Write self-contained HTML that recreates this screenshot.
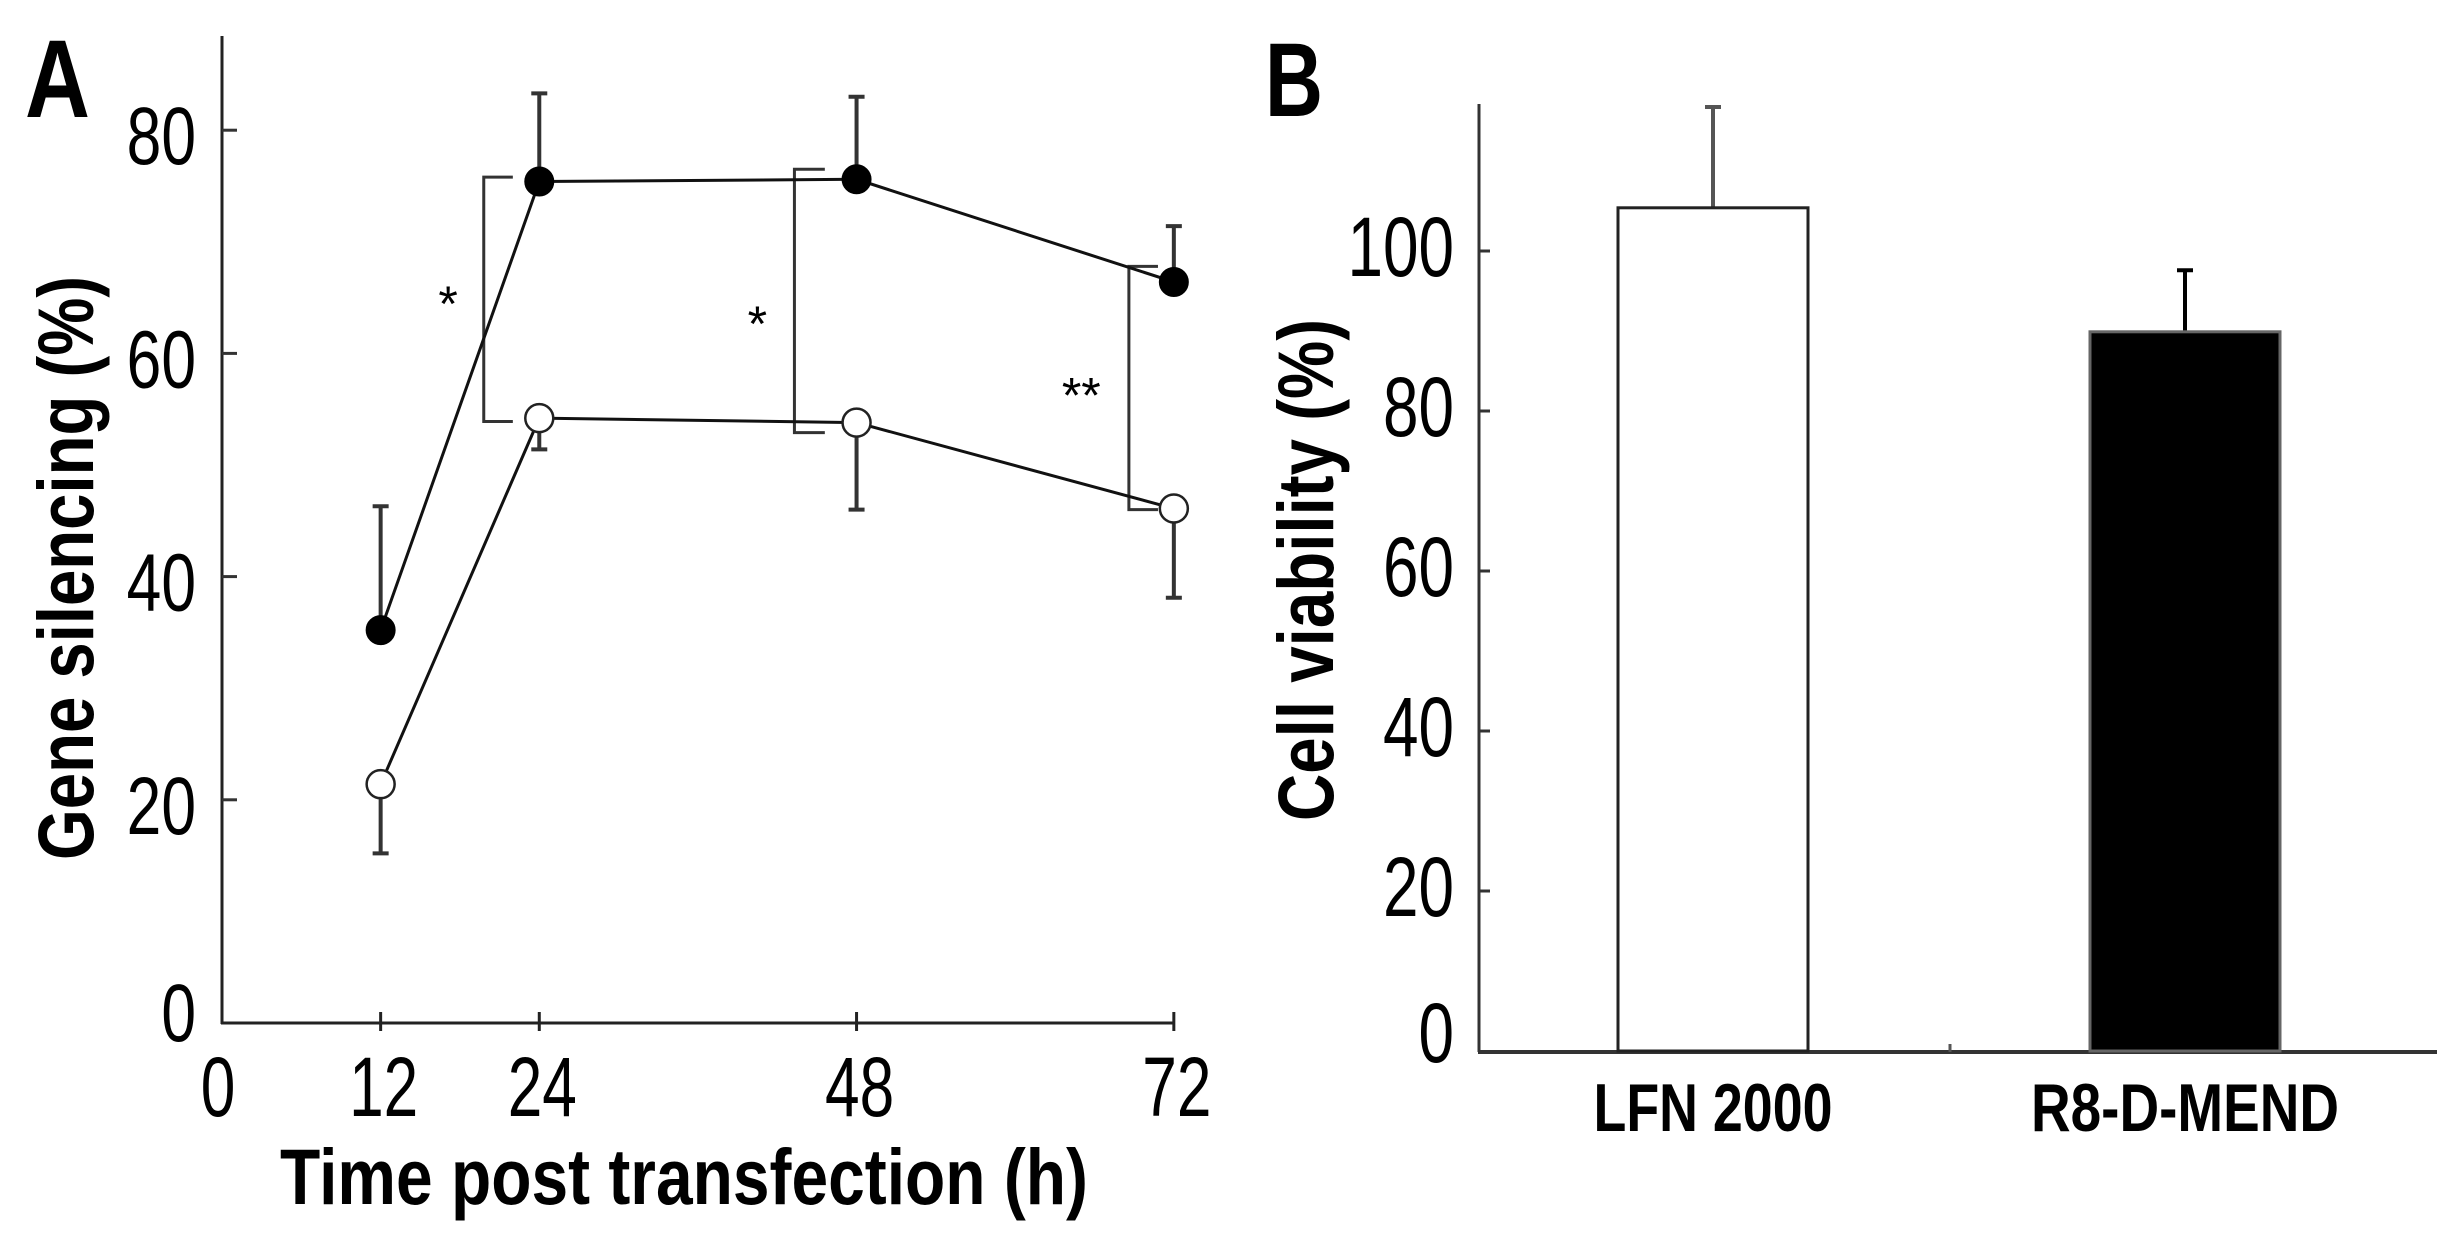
<!DOCTYPE html>
<html><head><meta charset="utf-8"><style>
html,body{margin:0;padding:0;background:#fff;}
svg{display:block;font-family:"Liberation Sans",Arial,sans-serif;}
</style></head><body>
<svg id="fig" width="2450" height="1255" viewBox="0 0 2450 1255" xmlns="http://www.w3.org/2000/svg"></svg>
<script>
// ---- Panel A data ----
const hours = [12, 24, 48, 72];
const treatedMean = [35.2, 75.4, 75.6, 66.4];
const treatedUpper = [46.3, 83.3, 83.0, 71.4];
const controlMean = [21.4, 54.2, 53.8, 46.1];
const controlLower = [15.2, 51.4, 46.0, 38.1];
const aYTicks = [0, 20, 40, 60, 80];
const aXTicks = [0, 12, 24, 48, 72];
const bracketX = [19.8, 43.3, 68.6];
const bracketTop = [75.8, 76.5, 67.8];
const bracketBottom = [53.9, 52.9, 46.0];
const bracketEnd = [22, 45.6, 70.8];
const starLabels = ["*", "*", "**"];
const starX = [17.1, 40.5, 65.0];
const starY = [65.5, 63.7, 57.3];
// ---- Panel B data ----
const groups = ["LFN 2000", "R8-D-MEND"];
const viability = [105.4, 89.9];
const viabilityErr = [118.0, 97.6];
const bYTicks = [0, 20, 40, 60, 80, 100];

const NS = "http://www.w3.org/2000/svg";
const svg = document.getElementById("fig");
function mk(tag, attrs, parent) {
  const e = document.createElementNS(NS, tag);
  for (const k in attrs) e.setAttribute(k, attrs[k]);
  (parent || svg).appendChild(e);
  return e;
}
// axis functions
const ax = h => 222 + h * 13.22;
const ay = v => 1023 - v * 11.16;
const bx = i => [1713, 2185][i];
const by = v => 1051 - v * 8.0;

// ---------------- Panel A ----------------
const gA = mk("g", {});


let t = mk("text", {x: 25, y: 117, "font-size": 110, "font-weight": "bold", textLength: 65, lengthAdjust: "spacingAndGlyphs"}, gA);
t.textContent = "A";



let ln = mk("line", {x1: 222, y1: 36, x2: 222, y2: 1024, stroke: "#222", "stroke-width": 3}, gA);


ln = mk("line", {x1: 221, y1: 1023, x2: ax(72) + 1, y2: 1023, stroke: "#222", "stroke-width": 3}, gA);



aYTicks.forEach(v => {
  if (v > 0) {
    const tk = mk("line", {x1: 222, y1: ay(v), x2: 237, y2: ay(v), stroke: "#333", "stroke-width": 3}, gA);
    
    
  }
  const g = mk("g", {transform: `translate(196,${ay(v) + (v === 0 ? -11 : 5) + 29}) scale(0.76,1)`}, gA);
  const tx = mk("text", {x: 0, y: 0, "font-size": 82, "text-anchor": "end"}, g);
  tx.textContent = String(v);
  
  
});
aXTicks.forEach(h => {
  if (h > 0) {
    const tk = mk("line", {x1: ax(h), y1: 1012, x2: ax(h), y2: 1031, stroke: "#222", "stroke-width": 3}, gA);
    
    
  }
  const g = mk("g", {transform: `translate(${h === 0 ? 218 : ax(h) + 3},1116) scale(0.74,1)`}, gA);
  const tx = mk("text", {x: 0, y: 0, "font-size": 84, "text-anchor": "middle"}, g);
  tx.textContent = String(h);
  
  
});
t = mk("text", {x: 280, y: 1204, "font-size": 79, "font-weight": "bold", textLength: 808, lengthAdjust: "spacingAndGlyphs"}, gA);
t.textContent = "Time post transfection (h)";


t = mk("text", {x: 0, y: 0, transform: "translate(93,860) rotate(-90)", "font-size": 79, "font-weight": "bold", textLength: 584, lengthAdjust: "spacingAndGlyphs"}, gA);
t.textContent = "Gene silencing (%)";



// brackets
bracketX.forEach((bxv, i) => {
  const p = mk("path", {d: `M${ax(bracketEnd[i])},${ay(bracketTop[i])} H${ax(bxv)} V${ay(bracketBottom[i])} H${ax(bracketEnd[i])}`, fill: "none", stroke: "#333", "stroke-width": 3}, gA);
  
  
  const s = mk("text", {x: ax(starX[i]), y: ay(starY[i]) + 29, "font-size": 50, "text-anchor": "middle"}, gA);
  s.textContent = starLabels[i];
  
  
});

// error bars
hours.forEach((h, i) => {
  const e1 = mk("path", {d: `M${ax(h)},${ay(treatedMean[i])} V${ay(treatedUpper[i])} M${ax(h) - 8},${ay(treatedUpper[i])} H${ax(h) + 8}`, stroke: "#333", "stroke-width": 4, fill: "none"}, gA);
  
  
  const e2 = mk("path", {d: `M${ax(h)},${ay(controlMean[i])} V${ay(controlLower[i])} M${ax(h) - 8},${ay(controlLower[i])} H${ax(h) + 8}`, stroke: "#333", "stroke-width": 4, fill: "none"}, gA);
  
  
});
// lines
let pl = mk("polyline", {points: hours.map((h, i) => ax(h) + "," + ay(treatedMean[i])).join(" "), fill: "none", stroke: "#111", "stroke-width": 3}, gA);


pl = mk("polyline", {points: hours.map((h, i) => ax(h) + "," + ay(controlMean[i])).join(" "), fill: "none", stroke: "#111", "stroke-width": 3}, gA);


// markers
hours.forEach((h, i) => {
  const c1 = mk("circle", {cx: ax(h), cy: ay(treatedMean[i]), r: 14, fill: "#000", stroke: "#000", "stroke-width": 2}, gA);
  
  
  const c2 = mk("circle", {cx: ax(h), cy: ay(controlMean[i]), r: 14, fill: "#fff", stroke: "#222", "stroke-width": 2.5}, gA);
  
  
});

// ---------------- Panel B ----------------
const gB = mk("g", {});


t = mk("text", {x: 1265, y: 116, "font-size": 105, "font-weight": "bold", textLength: 58, lengthAdjust: "spacingAndGlyphs"}, gB);
t.textContent = "B";


ln = mk("line", {x1: 1479, y1: 104, x2: 1479, y2: 1052, stroke: "#333", "stroke-width": 3}, gB);


ln = mk("line", {x1: 1478, y1: 1052, x2: 2437, y2: 1052, stroke: "#333", "stroke-width": 4}, gB);


ln = mk("line", {x1: 1950, y1: 1044, x2: 1950, y2: 1052, stroke: "#555", "stroke-width": 3}, gB);


bYTicks.forEach(v => {
  if (v > 0) {
    const tk = mk("line", {x1: 1479, y1: by(v), x2: 1490, y2: by(v), stroke: "#333", "stroke-width": 3}, gB);
    
    
  }
  const g = mk("g", {transform: `translate(1454,${by(v) + (v === 0 ? -19 : -5) + 30}) scale(0.76,1)`}, gB);
  const tx = mk("text", {x: 0, y: 0, "font-size": 84, "text-anchor": "end"}, g);
  tx.textContent = String(v);
  
  
});
t = mk("text", {x: 0, y: 0, transform: "translate(1333,821) rotate(-90)", "font-size": 79, "font-weight": "bold", textLength: 502, lengthAdjust: "spacingAndGlyphs"}, gB);
t.textContent = "Cell viability (%)";


const barW = 190;
const labelW = [239, 308];
groups.forEach((g, i) => {
  const eb = mk("path", {d: `M${bx(i)},${by(viability[i])} V${by(viabilityErr[i])} M${bx(i) - 8},${by(viabilityErr[i])} H${bx(i) + 8}`, stroke: i === 0 ? "#555" : "#000", "stroke-width": 4, fill: "none"}, gB);
  
  
  const r = mk("rect", {x: bx(i) - barW / 2, y: by(viability[i]), width: barW, height: by(0) - by(viability[i]), fill: i === 0 ? "#fff" : "#000", stroke: i === 0 ? "#222" : "#666", "stroke-width": 3}, gB);
  
  
  const tx = mk("text", {x: bx(i) - labelW[i] / 2, y: 1131, "font-size": 68, "font-weight": "bold", textLength: labelW[i], lengthAdjust: "spacingAndGlyphs"}, gB);
  tx.textContent = g;
  
  
});
</script>
</body></html>
